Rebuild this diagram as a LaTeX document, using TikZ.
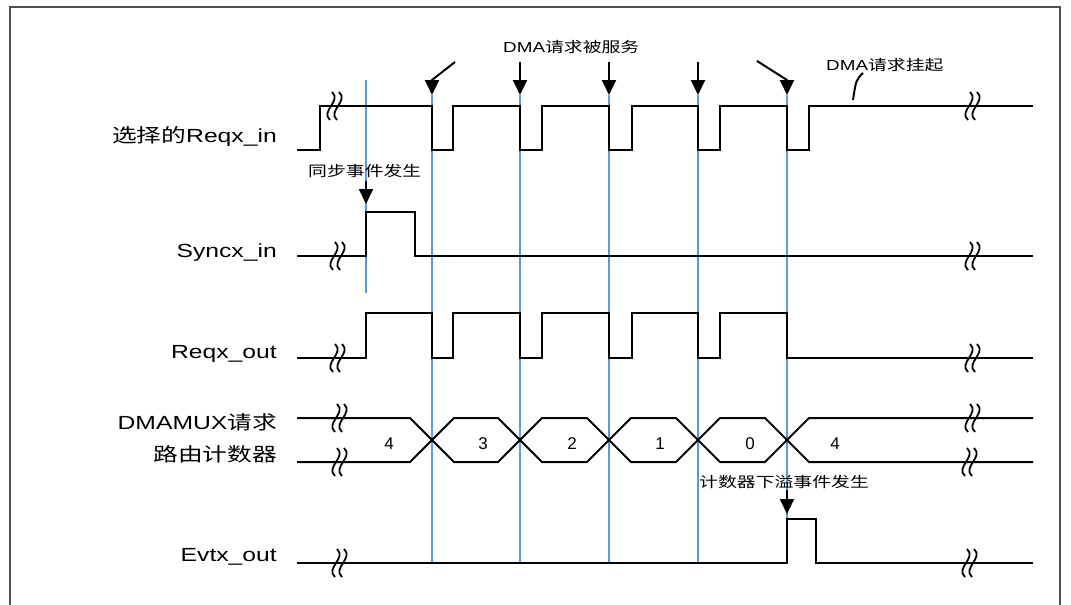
\documentclass[tikz,border=0pt]{standalone}
\usepackage{fontspec}
\setmainfont{Liberation Sans}[FakeStretch=1.3]
\newfontfamily\cjk{Noto Sans CJK SC}[FakeStretch=1.3]
\newfontfamily\digfont{Liberation Sans}
\usetikzlibrary{arrows.meta}
\definecolor{vblue}{RGB}{91,155,213}
\definecolor{framegray}{RGB}{80,80,80}
\tikzset{
 sig/.style={line width=2pt, line join=miter, black},
 vline/.style={line width=2pt, vblue},
 ptr/.style={line width=2pt, line join=round, -{Triangle[length=15pt,width=14pt]}},
 lab/.style={anchor=base east, inner sep=0pt, font=\fontsize{19}{22}\selectfont},
 small/.style={anchor=base west, inner sep=0pt, font=\fontsize{14.5}{17}\selectfont},
 digit/.style={inner sep=0pt, font=\digfont\fontsize{17}{20}\selectfont},
 brk/.pic={\draw[line width=1.8pt, black] (1,-14) .. controls (11,-5) and (-11,5) .. (-1,14)
            (8,-14) .. controls (18,-5) and (-4,5) .. (6,14);}
}
\begin{document}
\begin{tikzpicture}[x=1pt,y=-1pt]
\useasboundingbox (0,0) rectangle (1071,605);
\draw[framegray, line width=1.5pt] (10,612) -- (10,7) -- (1060,7) -- (1060,612);

% labels
\node[lab] (lreqin) at (277,142) {{\cjk 选择的}Reqx\_in};
\node[lab] (lsync) at (277,257) {Syncx\_in};
\node[lab] (lreqout) at (277,358) {Reqx\_out};
\node[lab] (lmux1) at (277,429) {DMAMUX{\cjk 请求}};
\node[lab] (lmux2) at (277,461) {\cjk 路由计数器};
\node[lab] (levt) at (277,561) {Evtx\_out};

% blue vertical lines
\coordinate (b0t) at (366,80); \coordinate (b0b) at (366,293);
\draw[vline] (b0t) -- (b0b);
\foreach \x in {432,520,609,698,787}{
  \draw[vline] (\x,95) -- (\x,563);
}

% Reqx_in
\draw[sig] (297,150) -- (320,150) -- (320,106) -- (432,106) -- (432,150) -- (453,150) -- (453,106)
 -- (520,106) -- (520,150) -- (542,150) -- (542,106) -- (609,106) -- (609,150) -- (632,150) -- (632,106)
 -- (698,106) -- (698,150) -- (720,150) -- (720,106) -- (787,106) -- (787,150) -- (809,150) -- (809,106) -- (1033,106);
\pic at (331,106) {brk};
\pic at (969,106) {brk};

% Syncx_in
\draw[sig] (297,256) -- (366,256) -- (366,212) -- (415,212) -- (415,256) -- (1033,256);
\pic at (334,256) {brk};
\pic at (969,256) {brk};

% Reqx_out
\draw[sig] (297,358) -- (366,358) -- (366,313) -- (432,313) -- (432,358) -- (453,358) -- (453,313)
 -- (520,313) -- (520,358) -- (542,358) -- (542,313) -- (609,313) -- (609,358) -- (632,358) -- (632,313)
 -- (698,313) -- (698,358) -- (720,358) -- (720,313) -- (787,313) -- (787,358) -- (1033,358);
\pic at (334,358) {brk};
\pic at (969,358) {brk};

% bus
\draw[sig] (297,418) -- (410,418) -- (432,440) -- (454,418) -- (498,418) -- (520,440) -- (542,418)
 -- (587,418) -- (609,440) -- (631,418) -- (676,418) -- (698,440) -- (720,418) -- (765,418) -- (787,440)
 -- (809,418) -- (1033,418);
\draw[sig] (297,462) -- (410,462) -- (432,440) -- (454,462) -- (498,462) -- (520,440) -- (542,462)
 -- (587,462) -- (609,440) -- (631,462) -- (676,462) -- (698,440) -- (720,462) -- (765,462) -- (787,440)
 -- (809,462) -- (1033,462);
\pic at (336,418) {brk};
\pic at (336,462) {brk};
\pic at (969,418) {brk};
\pic at (966,462) {brk};
\node[digit] (d4a) at (389,444) {4};
\node[digit] (d3) at (483,444) {3};
\node[digit] (d2) at (572,444) {2};
\node[digit] (d1) at (660,444) {1};
\node[digit] (d0) at (750,444) {0};
\node[digit] (d4b) at (835,444) {4};

% Evtx_out
\draw[sig] (297,563) -- (787,563) -- (787,519) -- (816,519) -- (816,563) -- (1033,563);
\pic at (336,563) {brk};
\pic at (966,563) {brk};

% annotations
\node[small] (tserv) at (503,52) {DMA{\cjk 请求被服务}};
\node[small] (tpend) at (826,70) {DMA{\cjk 请求挂起}};
\node[small] (tsync) at (308,176) {\cjk 同步事件发生};
\node[small] (tovf) at (699,487) {\cjk 计数器下溢事件发生};

\coordinate (a1s) at (455,62); \coordinate (a1m) at (432,80); \coordinate (a1e) at (432,95);
\draw[ptr] (a1s) -- (a1m) -- (a1e);
\foreach \x in {520,609,698}{
  \draw[ptr] (\x,62) -- (\x,95);
}
\coordinate (a5s) at (757,61); \coordinate (a5m) at (787,80); \coordinate (a5e) at (787,95);
\draw[ptr] (a5s) -- (a5m) -- (a5e);
\coordinate (psa) at (863,73); \coordinate (psb) at (853,100);
\draw[line width=2pt] (psa) .. controls (856,80) .. (psb);
\coordinate (sa) at (366,181); \coordinate (sb) at (366,204);
\draw[ptr] (sa) -- (sb);
\coordinate (oa) at (787,490); \coordinate (ob) at (787,514);
\draw[ptr] (oa) -- (ob);
\end{tikzpicture}
\end{document}
